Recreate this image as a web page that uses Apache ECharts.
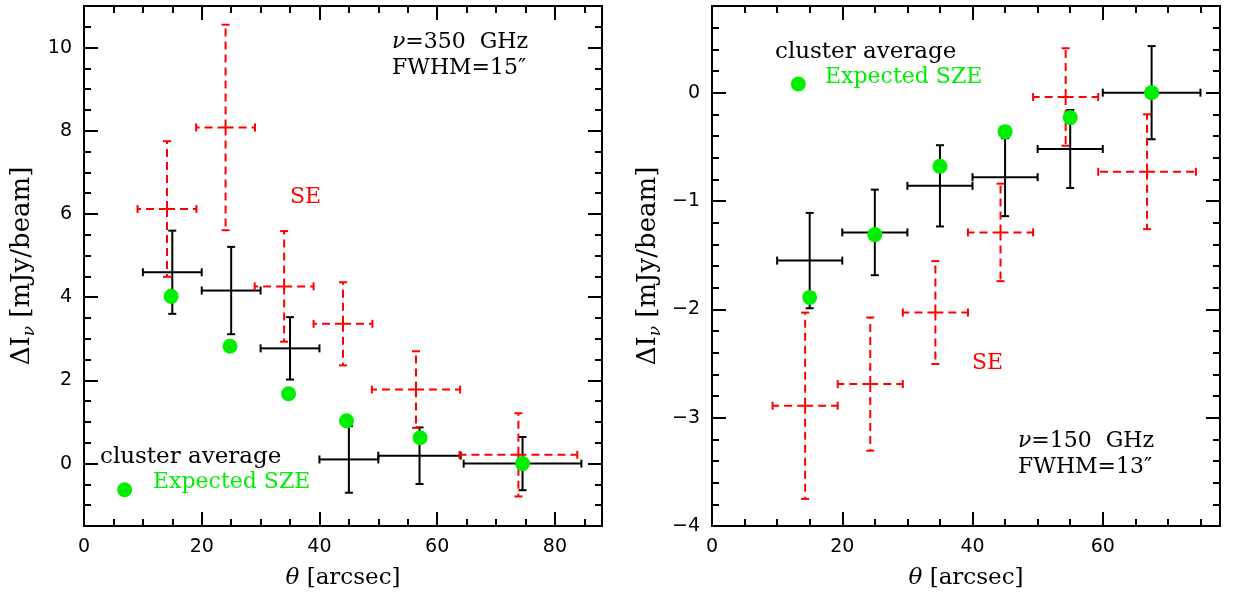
<!DOCTYPE html>
<html>
<head>
<meta charset="utf-8">
<script src="https://cdn.jsdelivr.net/npm/echarts@6.0.0/dist/echarts.min.js"></script>
<style>
  html, body { margin: 0; background: #fff; }
  #chart { width: 1235px; height: 595px; }
</style>
</head>
<body>
<div id="chart"></div>
<script>
// ---- 350 GHz panel (left) ----
var avgX_L    = [15, 25, 35, 45, 57, 74.5];
var avgXErr_L = [5, 5, 5, 5, 7, 10];
var avgY_L    = [4.6, 4.16, 2.77, 0.1, 0.19, 0.0];
var avgYErr_L = [1.0, 1.05, 0.75, 0.8, 0.68, 0.64];

var seX_L    = [14.1, 24.05, 34.0, 44.0, 56.4, 73.8];
var seXErr_L = [5, 5, 5, 5, 7.5, 10];
var seY_L    = [6.12, 8.08, 4.26, 3.36, 1.78, 0.21];
var seYErr_L = [1.63, 2.47, 1.33, 1.0, 0.92, 1.0];

var szeX_L = [14.8, 24.8, 34.75, 44.6, 57.1, 74.5];
var szeY_L = [4.02, 2.82, 1.68, 1.03, 0.62, 0.0];
var keyDot_L = [6.9, -0.63];

// ---- 150 GHz panel (right) ----
var avgX_R    = [15, 25, 35, 45, 55, 67.5];
var avgXErr_R = [5, 5, 5, 5, 5, 7.5];
var avgY_R    = [-1.55, -1.29, -0.86, -0.78, -0.52, 0.0];
var avgYErr_R = [0.44, 0.395, 0.375, 0.36, 0.36, 0.43];

var seX_R    = [14.3, 24.3, 34.3, 44.3, 54.3, 66.8];
var seXErr_R = [5, 5, 5, 5, 5, 7.5];
var seY_R    = [-2.89, -2.69, -2.03, -1.29, -0.04, -0.73];
var seYErr_R = [0.86, 0.615, 0.475, 0.45, 0.45, 0.53];

var szeX_R = [15, 25, 35, 45, 55, 67.5];
var szeY_R = [-1.89, -1.31, -0.68, -0.36, -0.23, 0.0];
var keyDot_R = [13.25, 0.08];

// ---- axes ----
var xRange_L = [0, 88], yRange_L = [-1.5, 11];
var xRange_R = [0, 78], yRange_R = [-4, 0.8];
var xMajor_L = [0, 20, 40, 60, 80];
var yMajor_L = [0, 2, 4, 6, 8, 10];
var xMajor_R = [0, 20, 40, 60];
var yMajor_R = [-4, -3, -2, -1, 0];

var SANS = '"DejaVu Sans", sans-serif';
var SERIF = '"DejaVu Serif", serif';

function minorTicks(range, step, majors) {
  var out = [];
  for (var v = range[0]; v <= range[1] + 1e-9; v += step) {
    var r = Math.round(v * 100) / 100;
    if (majors.indexOf(r) < 0) out.push(r);
  }
  return out;
}

function fmt(v) { return String(v).replace('-', '\u2212'); }

function makeAxis(grid, pos, range, ticks, len, labels) {
  return {
    type: 'value', gridIndex: grid, position: pos,
    min: range[0], max: range[1],
    axisLine: { show: false, onZero: false },
    splitLine: { show: false },
    axisTick: { show: true, inside: true, length: len, customValues: ticks,
      lineStyle: { color: '#000', width: 2 } },
    axisLabel: labels ? {
      show: true, customValues: ticks, margin: 12, color: '#000',
      fontFamily: SANS, fontSize: 19, formatter: fmt
    } : { show: false }
  };
}

function axesFor(grid, dim, range, majors, step) {
  var minors = minorTicks(range, step, majors);
  var a = dim === 'x' ? ['bottom', 'top'] : ['left', 'right'];
  return [
    makeAxis(grid, a[0], range, majors, 14, true),
    makeAxis(grid, a[0], range, minors, 7, false),
    makeAxis(grid, a[1], range, majors, 14, false),
    makeAxis(grid, a[1], range, minors, 7, false)
  ];
}

function zip4(a, b, c, d) {
  return a.map(function (v, i) { return [v, b[i], c[i], d[i]]; });
}
function zip2(a, b) {
  return a.map(function (v, i) { return [v, b[i]]; });
}

function crossRenderer(color, dashed) {
  return function (params, api) {
    var x = api.value(0), y = api.value(1), ex = api.value(2), ey = api.value(3);
    var c = api.coord([x, y]);
    var ends = [api.coord([x - ex, y]), api.coord([x + ex, y]),
                api.coord([x, y + ey]), api.coord([x, y - ey])];
    var arm = { stroke: color, lineWidth: 2 };
    if (dashed) arm.lineDash = [8, 5];
    var cap = { stroke: color, lineWidth: 2 };
    var children = [];
    ends.forEach(function (p, i) {
      children.push({ type: 'line', shape: { x1: c[0], y1: c[1], x2: p[0], y2: p[1] }, style: arm });
      var sh = i < 2
        ? { x1: p[0], y1: p[1] - 4, x2: p[0], y2: p[1] + 4 }
        : { x1: p[0] - 4, y1: p[1], x2: p[0] + 4, y2: p[1] };
      children.push({ type: 'line', shape: sh, style: cap });
    });
    return { type: 'group', children: children };
  };
}

function panelSeries(ax, avg, se, sze, key) {
  return [
    { type: 'custom', xAxisIndex: ax, yAxisIndex: ax, renderItem: crossRenderer('#000', false),
      data: avg, z: 3, silent: true },
    { type: 'custom', xAxisIndex: ax, yAxisIndex: ax, renderItem: crossRenderer('#ff0000', true),
      data: se, z: 4, silent: true },
    { type: 'scatter', xAxisIndex: ax, yAxisIndex: ax, symbolSize: 15,
      itemStyle: { color: '#00ee00', opacity: 1 }, data: sze.concat([key]), z: 5, silent: true }
  ];
}

function txt(x, y, text, color, extra) {
  var st = { text: text, fill: color || '#000', fontFamily: SERIF, fontSize: 22,
             align: 'left', verticalAlign: 'middle' };
  for (var k in extra) st[k] = extra[k];
  return { type: 'text', x: x, y: y, style: st, z: 10 };
}

var italic = { i: { fontStyle: 'italic', fontFamily: SERIF, fontSize: 22 } };
var italicBig = { i: { fontStyle: 'italic', fontFamily: SERIF, fontSize: 23 } };
var yTitleRich = {
  a: { fontFamily: SERIF, fontSize: 26, lineHeight: 32 },
  s: { fontFamily: SERIF, fontSize: 17, fontStyle: 'italic', lineHeight: 17, verticalAlign: 'bottom' }
};

function yTitle(x) {
  return { type: 'text', x: x, y: 266, rotation: Math.PI / 2, z: 10,
    style: { text: '{a|\u0394I}{s|\u03bd}{a| [mJy/beam]}', rich: yTitleRich,
             align: 'center', verticalAlign: 'middle', fill: '#000' } };
}

var option = {
  animation: false,
  backgroundColor: '#fff',
  grid: [
    { left: 84, top: 6, width: 518, height: 520, show: true, borderColor: '#000', borderWidth: 2, backgroundColor: 'transparent' },
    { left: 712, top: 6, width: 508, height: 520, show: true, borderColor: '#000', borderWidth: 2, backgroundColor: 'transparent' }
  ],
  xAxis: axesFor(0, 'x', xRange_L, xMajor_L, 5).concat(axesFor(1, 'x', xRange_R, xMajor_R, 5)),
  yAxis: axesFor(0, 'y', yRange_L, yMajor_L, 0.5).concat(axesFor(1, 'y', yRange_R, yMajor_R, 0.2)),
  series: panelSeries(0,
      zip4(avgX_L, avgY_L, avgXErr_L, avgYErr_L),
      zip4(seX_L, seY_L, seXErr_L, seYErr_L),
      zip2(szeX_L, szeY_L), keyDot_L)
    .concat(panelSeries(4,
      zip4(avgX_R, avgY_R, avgXErr_R, avgYErr_R),
      zip4(seX_R, seY_R, seXErr_R, seYErr_R),
      zip2(szeX_R, szeY_R), keyDot_R)),
  graphic: [
    // left panel annotations
    txt(392, 42, '{i|\u03bd}=350  GHz', '#000', { rich: italic }),
    txt(392, 68, 'FWHM=15\u2033'),
    txt(290, 197, 'SE', '#ff0000'),
    txt(100, 457, 'cluster average', '#000', { fontSize: 23 }),
    txt(153, 482, 'Expected SZE', '#00ee00'),
    // right panel annotations
    txt(775, 52, 'cluster average', '#000', { fontSize: 23 }),
    txt(825, 77, 'Expected SZE', '#00ee00'),
    txt(972, 363, 'SE', '#ff0000'),
    txt(1018, 441, '{i|\u03bd}=150  GHz', '#000', { rich: italic }),
    txt(1018, 467, 'FWHM=13\u2033'),
    // axis titles
    txt(343, 578, '{i|\u03b8} [arcsec]', '#000', { rich: italicBig, fontSize: 23, align: 'center' }),
    txt(966, 578, '{i|\u03b8} [arcsec]', '#000', { rich: italicBig, fontSize: 23, align: 'center' }),
    yTitle(22),
    yTitle(648)
  ]
};

var chart = echarts.init(document.getElementById('chart'), null, { renderer: 'canvas' });
chart.setOption(option);
</script>
</body>
</html>
